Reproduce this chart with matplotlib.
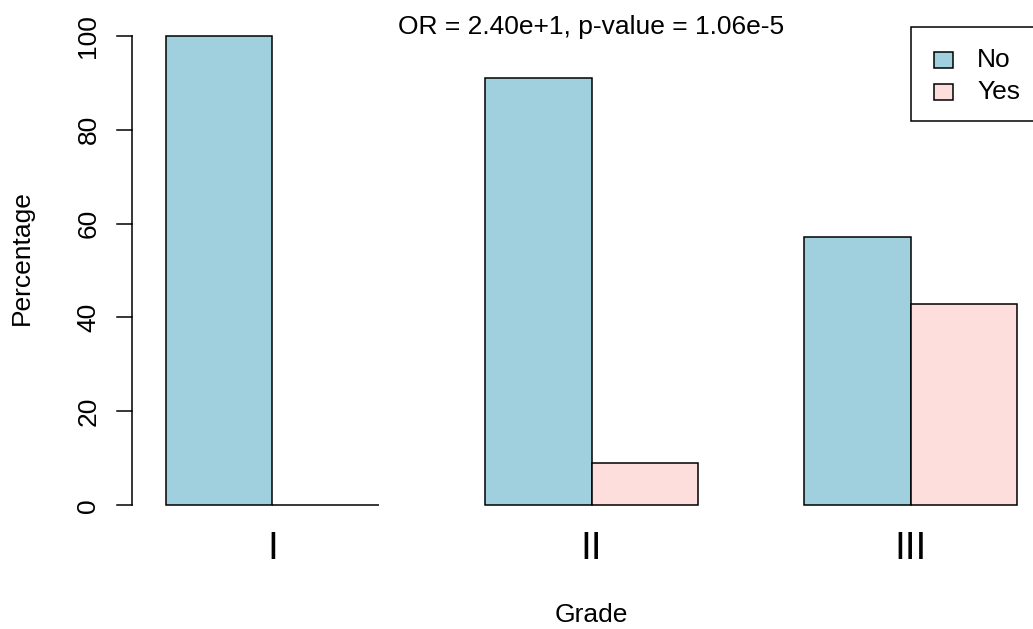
import numpy as np
import matplotlib.pyplot as plt
from matplotlib.patches import Rectangle

# data
grades = ['I', 'II', 'III']
series = ['No', 'Yes']
pct_no = [100.0, 90.9, 57.1]
pct_yes = [0.0, 9.1, 42.9]
yticks = [0, 20, 40, 60, 80, 100]
title = 'OR = 2.40e+1, p-value = 1.06e-5'

col_no = '#A0CFDD'
col_yes = '#FDDEDC'

plt.rcParams['font.family'] = ['Liberation Sans', 'DejaVu Sans']

W, H = 1033, 629
fig = plt.figure(figsize=(W / 100, H / 100), dpi=100)

# R-like plot region: x 0.68..9.32 -> px 132..1051, y -4..104 -> px 524..17
ax = fig.add_axes([132 / W, (H - 524) / H, (1051 - 132) / W, (524 - 17) / H])
ax.set_xlim(0.68, 9.32)
ax.set_ylim(-4, 104)
ax.axis('off')

# bars, R barplot beside=TRUE with space c(0, 1)
pos_no = np.array([1.5, 4.5, 7.5])
pos_yes = pos_no + 1
ax.bar(pos_no, pct_no, width=1, color=col_no, edgecolor='black', linewidth=1.1)
ax.bar(pos_yes, pct_yes, width=1, color=col_yes, edgecolor='black', linewidth=1.1)

# y axis drawn like R
ax.plot([0.68, 0.68], [0, 100], color='black', lw=1.1, clip_on=False)
for t in yticks:
    ax.plot([0.54, 0.68], [t, t], color='black', lw=1.1, clip_on=False)
    ax.text(0.27, t, str(t), rotation=90, ha='center', va='center', fontsize=19)

# group labels
for g, x in zip(grades, pos_no + 0.5):
    ax.text(x, -9.3, g, ha='center', va='center', fontsize=28)

fig.text(591 / W, 1 - 615 / H, 'Grade', ha='center', va='center', fontsize=19)
fig.text(22 / W, 1 - 258 / H, 'Percentage', ha='center', va='center', rotation=90, fontsize=19)
fig.text(591 / W, 1 - 27 / H, title, ha='center', va='center', fontsize=19)

# legend box (cropped on the right like the reference)
fig.patches.append(Rectangle((911 / W, 1 - 121 / H), (1050 - 911) / W, 94 / H,
                             transform=fig.transFigure, facecolor='white',
                             edgecolor='black', lw=1.1, zorder=5))
for lab, col, yc in zip(series, [col_no, col_yes], [60, 92]):
    fig.patches.append(Rectangle((934 / W, 1 - (yc + 8) / H), 19 / W, 16 / H,
                                 transform=fig.transFigure, facecolor=col,
                                 edgecolor='black', lw=1.1, zorder=6))
    fig.text(977 / W, 1 - yc / H, lab, ha='left', va='center', fontsize=19, zorder=7)

fig.savefig('out.png', dpi=100)
